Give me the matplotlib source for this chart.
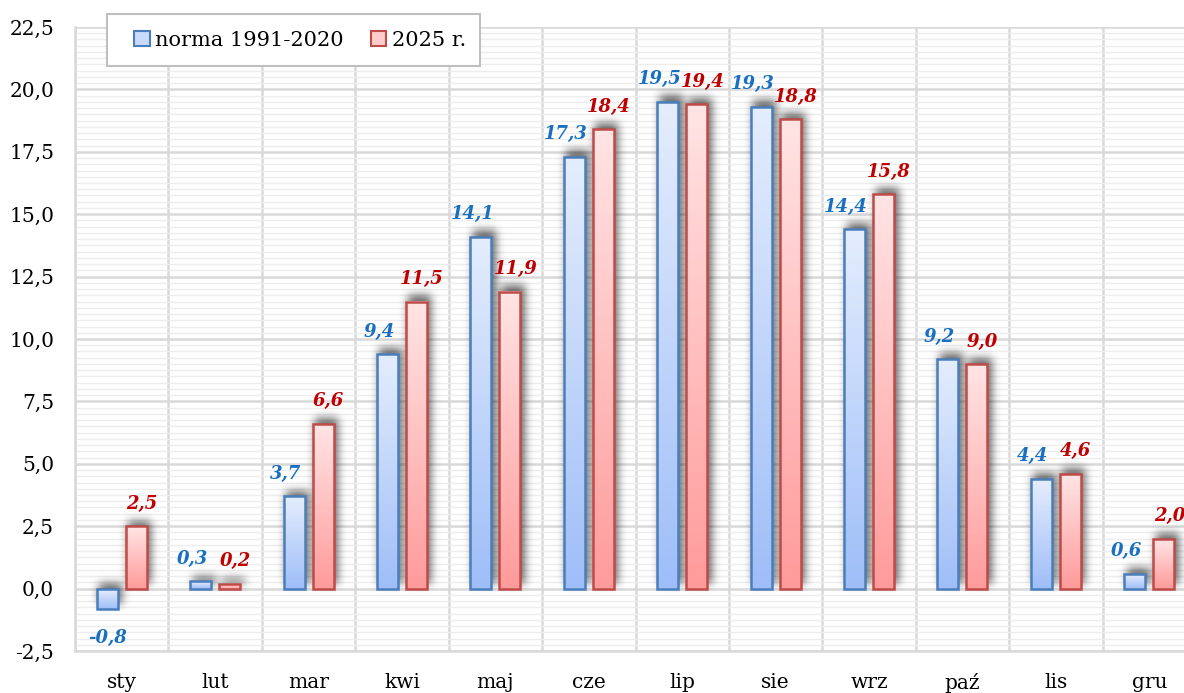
import numpy as np
import matplotlib.pyplot as plt
from matplotlib.patches import Rectangle
from matplotlib.colors import LinearSegmentedColormap
from matplotlib.ticker import MultipleLocator, FuncFormatter

# dane: średnia miesięczna temperatura
months = ["sty", "lut", "mar", "kwi", "maj", "cze", "lip", "sie", "wrz", "paź", "lis", "gru"]
norma = [-0.8, 0.3, 3.7, 9.4, 14.1, 17.3, 19.5, 19.3, 14.4, 9.2, 4.4, 0.6]
rok2025 = [2.5, 0.2, 6.6, 11.5, 11.9, 18.4, 19.4, 18.8, 15.8, 9.0, 4.6, 2.0]
series_names = ["norma 1991-2020", "2025 r."]

W, H = 1184, 693
ax_l, ax_r, ax_t, ax_b = 75, 1196, 27, 651
fig = plt.figure(figsize=(W / 100, H / 100), dpi=100)
ax = fig.add_axes([ax_l / W, (H - ax_b) / H, (ax_r - ax_l) / W, (ax_b - ax_t) / H])

ymin, ymax = -2.5, 22.5
xmin, xmax = -0.5, len(months) - 0.5
ax.set_xlim(xmin, xmax)
ax.set_ylim(ymin, ymax)

blue_cmap = LinearSegmentedColormap.from_list("b", ["#9fbef8", "#e4edfd"])
red_cmap = LinearSegmentedColormap.from_list("r", ["#ff9b9b", "#ffe4e4"])
blue_edge, red_edge = "#4a7ebb", "#be4b48"
blue_txt, red_txt = "#1a70c0", "#c00000"

bar_w = 0.225
off = 0.155
grad = np.linspace(0, 1, 64).reshape(-1, 1)

nx, ny = ax_r - ax_l, ax_b - ax_t


def to_px(x, y):
    return ((x - xmin) / (xmax - xmin) * nx, (y - ymin) / (ymax - ymin) * ny)


# rozmyty cień pod słupkami
shadow = np.zeros((ny, nx))
for i in range(len(months)):
    for xc, v in [(i - off, norma[i]), (i + off, rok2025[i])]:
        px0, py0 = to_px(xc - bar_w / 2, min(0, v))
        px1, py1 = to_px(xc + bar_w / 2, max(0, v))
        sx, sy = 4, 5
        shadow[int(py0 + sy):int(py1 + sy + 1), int(px0 + sx - 1):int(px1 + sx + 1)] = 1.0
k = np.arange(-15, 16)
kern = np.exp(-k ** 2 / (2 * 4.5 ** 2))
kern /= kern.sum()
shadow = np.apply_along_axis(lambda r: np.convolve(r, kern, mode="same"), 1, shadow)
shadow = np.apply_along_axis(lambda c: np.convolve(c, kern, mode="same"), 0, shadow)
rgba = np.zeros((ny, nx, 4))
rgba[..., 3] = shadow * 0.6
ax.imshow(rgba, extent=[xmin, xmax, ymin, ymax], origin="lower", aspect="auto",
          zorder=2, interpolation="nearest")


def draw_bar(xc, val, cmap, edge):
    x0, x1 = xc - bar_w / 2, xc + bar_w / 2
    y0, y1 = min(0, val), max(0, val)
    ax.imshow(grad, extent=[x0, x1, y0, y1], origin="lower", aspect="auto",
              cmap=cmap, zorder=3, interpolation="bilinear")
    ax.add_patch(Rectangle((x0, y0), bar_w, y1 - y0, facecolor="none",
                           edgecolor=edge, linewidth=1.8, zorder=4))


def fmt(v):
    return f"{v:.1f}".replace(".", ",")


lab_kw = dict(fontsize=13, fontweight="bold", fontstyle="italic",
              family="DejaVu Serif", zorder=6, ha="center", va="baseline")
for i in range(len(months)):
    draw_bar(i - off, norma[i], blue_cmap, blue_edge)
    draw_bar(i + off, rok2025[i], red_cmap, red_edge)
    for xc, v, col in [(i - off - 0.09, norma[i], blue_txt), (i + off + 0.06, rok2025[i], red_txt)]:
        if v >= 0:
            ax.text(xc, v + 0.7, fmt(v), color=col, **lab_kw)
        else:
            ax.text(xc + 0.09, v - 1.36, fmt(v), color=col, **lab_kw)

# siatka
ax.yaxis.set_major_locator(MultipleLocator(2.5))
ax.yaxis.set_minor_locator(MultipleLocator(0.25))
ax.set_xticks(range(len(months)))
ax.set_xticks(np.arange(-0.5, len(months), 1), minor=True)
ax.set_xticklabels(months)
ax.yaxis.set_major_formatter(FuncFormatter(lambda v, p: fmt(v)))
ax.grid(True, which="minor", axis="y", color="#ededed", linewidth=1.0, zorder=0)
ax.grid(True, which="major", axis="y", color="#d9d9d9", linewidth=1.8, zorder=1)
ax.grid(True, which="minor", axis="x", color="#d9d9d9", linewidth=1.8, zorder=1)
ax.set_axisbelow(True)
ax.tick_params(which="both", length=0)
ax.tick_params(axis="y", pad=15)
ax.tick_params(axis="x", pad=16)
for lab in ax.get_xticklabels() + ax.get_yticklabels():
    lab.set_family("DejaVu Serif")
    lab.set_fontsize(14.5)
for s in ax.spines.values():
    s.set_color("#d9d9d9")
    s.set_linewidth(1.8)
ax.spines["top"].set_visible(False)

# legenda: ramka rysowana osobno, wpisy wyśrodkowane w niej
fig.patches.append(Rectangle((107 / W, 1 - 66 / H), (480 - 107) / W, 52 / H,
                             transform=fig.transFigure, facecolor="white",
                             edgecolor="#bfbfbf", linewidth=1.5, zorder=9))
handles = [Rectangle((0, 0), 1, 1, facecolor="#c9dbfb", edgecolor=blue_edge, linewidth=1.5),
           Rectangle((0, 0), 1, 1, facecolor="#ffcccc", edgecolor=red_edge, linewidth=1.5)]
leg = fig.legend(handles, series_names, loc="center",
                 bbox_to_anchor=(300 / W, 1 - 40 / H), bbox_transform=fig.transFigure,
                 ncol=2, frameon=False,
                 prop={"family": "DejaVu Serif", "size": 15},
                 handlelength=0.75, handleheight=0.75, handletextpad=0.25,
                 columnspacing=1.3, borderpad=0, borderaxespad=0)
leg.set_zorder(10)

fig.savefig("out.png", dpi=100)
